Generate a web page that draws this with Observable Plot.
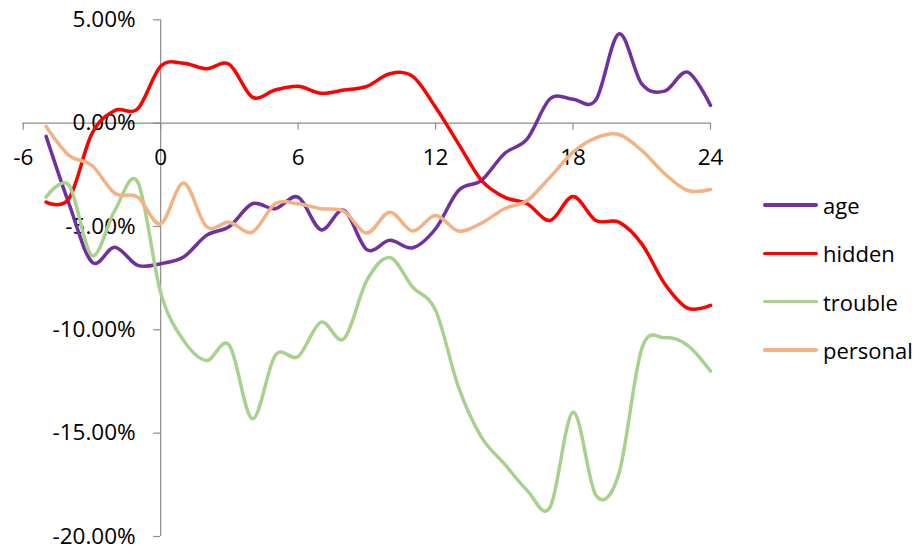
<!DOCTYPE html>
<html>
<head>
<meta charset="utf-8">
<script src="https://cdn.jsdelivr.net/npm/d3@7"></script>
<script src="https://cdn.jsdelivr.net/npm/@observablehq/plot@0.6"></script>
<style>
  body { margin: 0; background: #fff; font-family: "Open Sans", sans-serif; }
  #wrap { position: relative; width: 921px; height: 550px; }
  #legend { position: absolute; left: 763px; top: 181px; }
  #legend .row { display: flex; align-items: center; height: 48.3px; }
  #legend .sw { width: 55px; height: 3.5px; border-radius: 2px; margin-right: 5px; }
  #legend .lab { font-size: 22px; color: #000; line-height: 1; }
</style>
</head>
<body>
<div id="wrap">
  <div id="chart"></div>
  <div id="legend"></div>
</div>
<script>
// Hours relative to the event
const hours = [-5, -4, -3, -2, -1, 0, 1, 2, 3, 4, 5, 6, 7, 8, 9, 10, 11, 12, 13, 14, 15, 16, 17, 18, 19, 20, 21, 22, 23, 24];

// Percentage change per series
const age = [-0.64, -3.9, -6.72, -6.0, -6.88, -6.8, -6.48, -5.43, -5.0, -3.9, -4.14, -3.58, -5.16, -4.22, -6.12, -5.67, -6.03, -5.11, -3.26, -2.77, -1.48, -0.76, 1.18, 1.16, 1.13, 4.32, 1.9, 1.55, 2.47, 0.86];
const hidden = [-3.82, -3.65, -0.51, 0.61, 0.7, 2.75, 2.9, 2.63, 2.84, 1.26, 1.6, 1.78, 1.45, 1.6, 1.78, 2.39, 2.26, 0.77, -1.0, -2.77, -3.58, -3.9, -4.71, -3.55, -4.71, -4.79, -5.84, -7.77, -8.95, -8.82];
const trouble = [-3.58, -3.01, -6.4, -4.22, -2.85, -8.2, -10.51, -11.48, -10.75, -14.3, -11.24, -11.29, -9.63, -10.43, -7.61, -6.5, -7.93, -9.06, -12.77, -15.19, -16.48, -17.77, -18.58, -13.98, -18.01, -16.96, -10.91, -10.38, -10.75, -12.0];
const personal = [-0.16, -1.56, -2.05, -3.39, -3.58, -4.87, -2.9, -5.0, -4.79, -5.27, -3.9, -3.9, -4.14, -4.26, -5.32, -4.31, -5.22, -4.47, -5.22, -4.84, -4.14, -3.74, -2.61, -1.4, -0.71, -0.55, -1.32, -2.45, -3.26, -3.21];

const seriesNames = ["age", "hidden", "trouble", "personal"];
const seriesColors = ["#7030A0", "#FF0000", "#A9D18E", "#F4B183"];

const xTicks = [-6, 0, 6, 12, 18, 24];
const yTicks = [5, 0, -5, -10, -15, -20];

const seriesValues = { age, hidden, trouble, personal };
const rows = seriesNames.flatMap(name =>
  hours.map((h, i) => ({ hour: h, value: seriesValues[name][i], series: name }))
);

const axisGray = "#8c8c8c";
const font = '"Open Sans", sans-serif';
const pct = d => d.toFixed(2) + "%";

const chart = Plot.plot({
  width: 921,
  height: 550,
  marginLeft: 22.7,
  marginRight: 211,
  marginTop: 19.3,
  marginBottom: 14,
  x: { domain: [-6, 24], axis: null },
  y: { domain: [-20, 5], axis: null },
  color: { domain: seriesNames, range: seriesColors },
  style: { fontFamily: font, background: "white", overflow: "visible" },
  marks: [
    // axis lines crossing at the origin
    Plot.ruleY([0], { x1: -6, x2: 24, stroke: axisGray, strokeWidth: 1.2 }),
    Plot.ruleX([0], { y1: -20, y2: 5, stroke: axisGray, strokeWidth: 1.2 }),
    // outward tick marks
    Plot.ruleX(xTicks, { x: d => d, y1: 0, y2: 0, insetBottom: -7, stroke: axisGray, strokeWidth: 1.2 }),
    Plot.ruleY(yTicks, { y: d => d, x1: 0, x2: 0, insetLeft: -7, stroke: axisGray, strokeWidth: 1.2 }),
    // tick labels
    Plot.text(xTicks, { x: d => d, y: 0, dy: 35, text: d => String(d), fontSize: 22.5, fill: "#000" }),
    Plot.text(yTicks, { x: 0, y: d => d, dx: -25, textAnchor: "end", text: pct, fontSize: 22.5, fill: "#000" }),
    // smoothed series lines
    Plot.line(rows, {
      x: "hour", y: "value", z: "series", stroke: "series",
      strokeWidth: 3.5, curve: "cardinal", tension: 0,
      strokeLinejoin: "round", strokeLinecap: "round"
    })
  ]
});
document.getElementById("chart").appendChild(chart);

// legend
const legend = document.getElementById("legend");
seriesNames.forEach((name, i) => {
  const row = document.createElement("div");
  row.className = "row";
  const sw = document.createElement("div");
  sw.className = "sw";
  sw.style.background = seriesColors[i];
  const lab = document.createElement("span");
  lab.className = "lab";
  lab.textContent = name;
  row.appendChild(sw);
  row.appendChild(lab);
  legend.appendChild(row);
});
</script>
</body>
</html>
